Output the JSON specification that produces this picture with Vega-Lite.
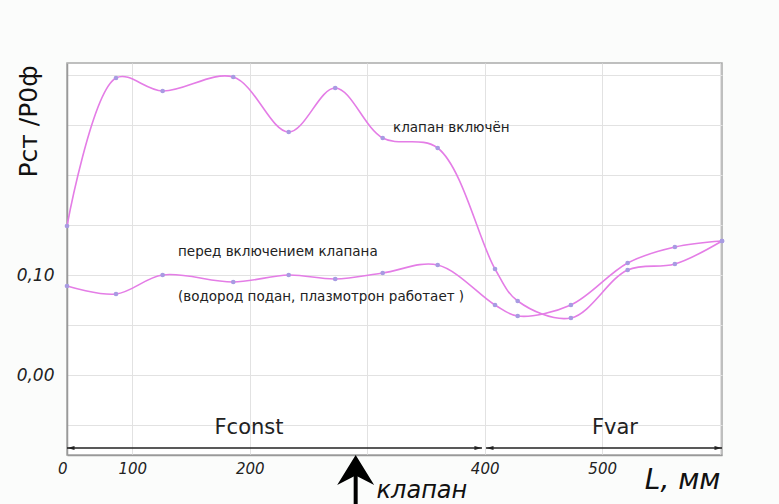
{
  "$schema": "https://vega.github.io/schema/vega-lite/v6.json",
  "width": 655,
  "height": 392,
  "autosize": {"type": "none"},
  "padding": {"left": 67, "top": 63, "right": 57, "bottom": 49},
  "background": "#fbfcfb",
  "config": {
    "view": {"fill": "white", "stroke": "#aaaaaa", "strokeWidth": 1.5},
    "font": "DejaVu Sans"
  },
  "data": {
    "values": [
      {"series": "on", "L": 44.5, "P": 0.149},
      {"series": "on", "L": 86.2, "P": 0.297},
      {"series": "on", "L": 125.9, "P": 0.284},
      {"series": "on", "L": 186, "P": 0.298},
      {"series": "on", "L": 233.2, "P": 0.243},
      {"series": "on", "L": 272.8, "P": 0.287},
      {"series": "on", "L": 313.2, "P": 0.237},
      {"series": "on", "L": 360, "P": 0.227},
      {"series": "on", "L": 408.8, "P": 0.106},
      {"series": "on", "L": 428.1, "P": 0.074},
      {"series": "on", "L": 473.4, "P": 0.057},
      {"series": "on", "L": 521.7, "P": 0.105},
      {"series": "on", "L": 561.9, "P": 0.111},
      {"series": "on", "L": 602, "P": 0.134},
      {"series": "before", "L": 44.5, "P": 0.089},
      {"series": "before", "L": 86.2, "P": 0.081},
      {"series": "before", "L": 125.9, "P": 0.100},
      {"series": "before", "L": 186, "P": 0.093},
      {"series": "before", "L": 233.2, "P": 0.100},
      {"series": "before", "L": 272.8, "P": 0.096},
      {"series": "before", "L": 313.2, "P": 0.102},
      {"series": "before", "L": 360, "P": 0.110},
      {"series": "before", "L": 408.8, "P": 0.070},
      {"series": "before", "L": 428.1, "P": 0.059},
      {"series": "before", "L": 473.4, "P": 0.070},
      {"series": "before", "L": 521.7, "P": 0.112},
      {"series": "before", "L": 561.9, "P": 0.128},
      {"series": "before", "L": 602, "P": 0.134}
    ]
  },
  "layer": [
    {
      "mark": {"type": "line", "interpolate": "catmull-rom", "color": "#e47de6", "strokeWidth": 1.6},
      "encoding": {
        "x": {
          "field": "L", "type": "quantitative",
          "scale": {"domain": [44.5, 602], "nice": false, "zero": false},
          "axis": {
            "values": [44.5, 100, 200, 300, 400, 500, 600],
            "labelExpr": "datum.value < 50 ? '0' : (datum.value == 300 || datum.value == 600) ? '' : datum.label",
            "labelAlign": {"condition": {"test": "datum.value < 50", "value": "right"}, "value": "center"},
            "labelFont": "DejaVu Sans", "labelFontStyle": "italic", "labelFontSize": 15, "labelColor": "#222222",
            "labelPadding": 6, "ticks": false,
            "grid": true, "gridColor": "#e2e2e2", "gridWidth": 1,
            "domainColor": "#999999", "domainWidth": 1.5,
            "title": "L, мм", "titleFont": "DejaVu Sans", "titleFontStyle": "italic", "titleFontWeight": "normal",
            "titleFontSize": 28, "titleColor": "#111111",
            "titleAlign": "right", "titleX": 653, "titleY": 33, "titleBaseline": "alphabetic", "titleAnchor": "end"
          }
        },
        "y": {
          "field": "P", "type": "quantitative",
          "scale": {"domain": [-0.08, 0.312], "nice": false, "zero": false},
          "axis": {
            "values": [-0.05, 0, 0.05, 0.1, 0.15, 0.2, 0.25, 0.3],
            "labelExpr": "abs(datum.value - 0.1) < 1e-6 ? '0,10' : abs(datum.value) < 1e-6 ? '0,00' : ''",
            "labelFont": "DejaVu Sans", "labelFontStyle": "italic", "labelFontSize": 17, "labelColor": "#222222",
            "labelPadding": 13, "ticks": false,
            "grid": true, "gridColor": "#e2e2e2", "gridWidth": 1,
            "domainColor": "#999999", "domainWidth": 1.5,
            "title": "Pст /P0ф", "titleFont": "DejaVu Sans", "titleFontWeight": "normal", "titleFontSize": 25,
            "titleColor": "#111111", "titleAngle": -90, "titleAlign": "right", "titleBaseline": "alphabetic",
            "titleX": -31, "titleY": 2, "titleAnchor": "end"
          }
        },
        "detail": {"field": "series"}
      }
    },
    {
      "mark": {"type": "point", "filled": true, "color": "#a89be2", "size": 22, "opacity": 1},
      "encoding": {
        "x": {"field": "L", "type": "quantitative"},
        "y": {"field": "P", "type": "quantitative"}
      }
    },
    {
      "data": {"values": [
        {"L": 322, "P": 0.247, "text": "клапан включён"},
        {"L": 139, "P": 0.123, "text": "перед включением клапана"},
        {"L": 139, "P": 0.078, "text": "(водород подан, плазмотрон работает )"}
      ]},
      "mark": {"type": "text", "align": "left", "baseline": "middle", "font": "DejaVu Sans", "fontSize": 13.5, "color": "#222222"},
      "encoding": {
        "x": {"field": "L", "type": "quantitative"},
        "y": {"field": "P", "type": "quantitative"},
        "text": {"field": "text"}
      }
    },
    {
      "data": {"values": [
        {"L": 199.4, "P": -0.053, "text": "Fconst"},
        {"L": 510.9, "P": -0.053, "text": "Fvar"}
      ]},
      "mark": {"type": "text", "align": "center", "baseline": "middle", "font": "DejaVu Sans", "fontSize": 21, "color": "#222222"},
      "encoding": {
        "x": {"field": "L", "type": "quantitative"},
        "y": {"field": "P", "type": "quantitative"},
        "text": {"field": "text"}
      }
    },
    {
      "data": {"values": [
        {"L": 44.5, "L2": 397.7, "P": -0.073},
        {"L": 401.1, "L2": 602, "P": -0.073}
      ]},
      "mark": {"type": "rule", "color": "#222222", "strokeWidth": 1.5},
      "encoding": {
        "x": {"field": "L", "type": "quantitative"},
        "x2": {"field": "L2"},
        "y": {"field": "P", "type": "quantitative"}
      }
    },
    {
      "data": {"values": [
        {"L": 47.9, "P": -0.073},
        {"L": 404.5, "P": -0.073}
      ]},
      "mark": {"type": "point", "shape": "M-1,0L1,-0.55L1,0.55Z", "filled": true, "color": "#222222", "size": 50, "opacity": 1},
      "encoding": {
        "x": {"field": "L", "type": "quantitative"},
        "y": {"field": "P", "type": "quantitative"}
      }
    },
    {
      "data": {"values": [
        {"L": 394.3, "P": -0.073},
        {"L": 598.6, "P": -0.073}
      ]},
      "mark": {"type": "point", "shape": "M1,0L-1,-0.55L-1,0.55Z", "filled": true, "color": "#222222", "size": 50, "opacity": 1},
      "encoding": {
        "x": {"field": "L", "type": "quantitative"},
        "y": {"field": "P", "type": "quantitative"}
      }
    },
    {
      "data": {"values": [{"L": 290.2, "P": -0.09, "P2": -0.14}]},
      "mark": {"type": "rule", "color": "#000000", "strokeWidth": 4, "clip": false},
      "encoding": {
        "x": {"field": "L", "type": "quantitative"},
        "y": {"field": "P", "type": "quantitative"},
        "y2": {"field": "P2"}
      }
    },
    {
      "data": {"values": [{"L": 290.2, "P": -0.095}]},
      "mark": {"type": "point", "shape": "M0,-0.81L1,0.81L0,0.3L-1,0.81Z", "filled": true, "color": "#000000", "size": 1369, "opacity": 1},
      "encoding": {
        "x": {"field": "L", "type": "quantitative"},
        "y": {"field": "P", "type": "quantitative"}
      }
    },
    {
      "data": {"values": [{"L": 308, "P": -0.128, "text": "клапан"}]},
      "mark": {"type": "text", "align": "left", "baseline": "bottom", "font": "DejaVu Sans", "fontStyle": "italic", "fontSize": 24, "color": "#111111"},
      "encoding": {
        "x": {"field": "L", "type": "quantitative"},
        "y": {"field": "P", "type": "quantitative"},
        "text": {"field": "text"}
      }
    }
  ]
}
